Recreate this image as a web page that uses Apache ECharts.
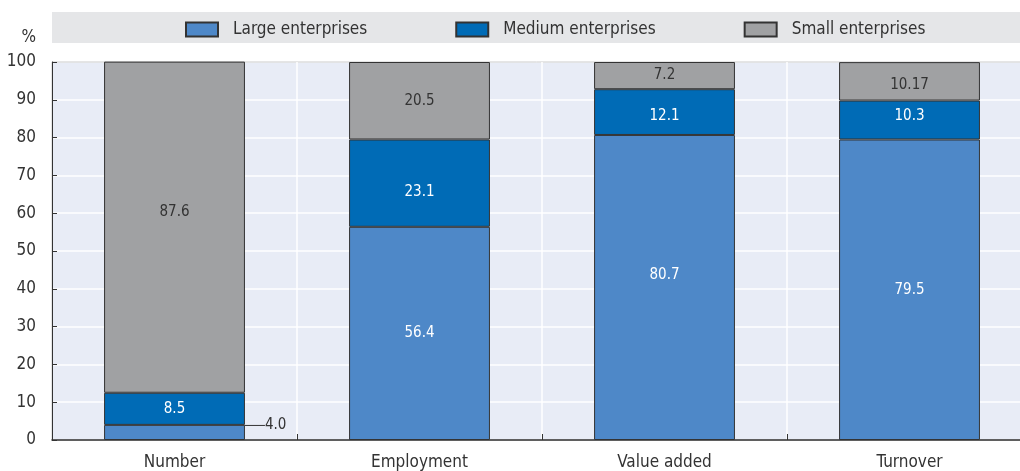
<!DOCTYPE html>
<html>
<head>
<meta charset="utf-8">
<script src="https://cdn.jsdelivr.net/npm/echarts@6/dist/echarts.min.js"></script>
<style>
  html, body { margin: 0; padding: 0; background: #ffffff; }
  #chart { width: 1020px; height: 471px; }
</style>
</head>
<body>
<div id="chart"></div>
<script>
    var categories = ['Number', 'Employment', 'Value added', 'Turnover'];
    var largeValues = [4.0, 56.4, 80.7, 79.5];
    var mediumValues = [8.5, 23.1, 12.1, 10.3];
    var smallValues = [87.6, 20.5, 7.2, 10.17];
    var largeLabels = ['4.0', '56.4', '80.7', '79.5'];
    var mediumLabels = ['8.5', '23.1', '12.1', '10.3'];
    var smallLabels = ['87.6', '20.5', '7.2', '10.17'];
    var yTicks = [0, 10, 20, 30, 40, 50, 60, 70, 80, 90, 100];

    var FONT = "'Liberation Sans Narrow', 'DejaVu Sans Condensed', Arial, sans-serif";

    //堆叠柱形图
    function DrawChart() {
        var barChart = echarts.init(document.getElementById('chart'));

        // 标签在柱段内的竖向微调
        function barSeries(name, values, labels, shifts, color, textColor) {
            return {
                name: name,
                type: 'bar',
                stack: 'total',
                barWidth: '57.5%',
                itemStyle: {
                    color: color,
                    borderColor: '#333333',
                    borderWidth: 1
                },
                label: {
                    show: true,
                    position: 'inside',
                    fontFamily: FONT,
                    fontSize: 15,
                    color: textColor,
                    formatter: function (p) { return labels[p.dataIndex]; }
                },
                labelLayout: function (p) {
                    if (p.seriesIndex === 0 && p.dataIndex === 0) {
                        return { dx: 16, dy: -7 };
                    }
                    return { dy: shifts[p.dataIndex] };
                },
                data: values
            };
        }

        var large = barSeries('Large enterprises', largeValues, largeLabels, [0, 0, -12, 0], '#4E88C8', '#ffffff');
        // 4.0 标签放在柱子右侧并带引线
        large.data = largeValues.map(function (v, i) {
            if (i === 0) {
                return {
                    value: v,
                    label: { position: 'right', color: '#333333', distance: 4 },
                    labelLine: { show: true, lineStyle: { color: '#333333', width: 1 } }
                };
            }
            return v;
        });

        barChart.setOption({
            animation: false,
            textStyle: { fontFamily: FONT },
            graphic: [{
                type: 'rect',
                shape: { x: 52, y: 12, width: 968, height: 31 },
                style: { fill: '#E5E6E8' },
                z: -1
            }],
            legend: {
                left: 180,
                top: 16,
                icon: 'rect',
                itemWidth: 32,
                itemHeight: 14,
                itemGap: 88,
                textStyle: {
                    fontFamily: FONT,
                    fontSize: 17,
                    color: '#333333',
                    padding: [0, 0, 0, 10]
                },
                data: ['Large enterprises', 'Medium enterprises', 'Small enterprises']
            },
            grid: {
                left: 52,
                width: 980,
                top: 62,
                bottom: 31,
                outerBoundsMode: 'none',
                show: true,
                backgroundColor: '#E8ECF6',
                borderColor: '#333333',
                borderWidth: 1
            },
            xAxis: {
                type: 'category',
                data: categories,
                axisLine: { lineStyle: { color: '#333333', width: 1.5 } },
                axisTick: { show: true, inside: true, length: 6, lineStyle: { color: '#333333' } },
                splitLine: { show: true, lineStyle: { color: '#ffffff', width: 1.5 } },
                axisLabel: {
                    fontFamily: FONT,
                    fontSize: 17,
                    color: '#333333',
                    margin: 14
                }
            },
            yAxis: {
                type: 'value',
                min: yTicks[0],
                max: yTicks[yTicks.length - 1],
                interval: 10,
                name: '%',
                nameLocation: 'end',
                nameGap: 16,
                nameTextStyle: {
                    fontFamily: FONT,
                    fontSize: 17,
                    color: '#333333',
                    align: 'right',
                    padding: [0, 16, 0, 0]
                },
                axisLine: { show: true, lineStyle: { color: '#333333' } },
                axisTick: { show: true, inside: true, length: 5, lineStyle: { color: '#333333' } },
                splitLine: { show: true, lineStyle: { color: '#ffffff', width: 1.5 } },
                axisLabel: {
                    fontFamily: FONT,
                    fontSize: 17,
                    color: '#333333',
                    margin: 16
                }
            },
            series: [
                large,
                barSeries('Medium enterprises', mediumValues, mediumLabels, [0, 9, 4, -4], '#006BB6', '#ffffff'),
                barSeries('Small enterprises', smallValues, smallLabels, [-15, 0, 0, 4], '#A0A1A3', '#333333')
            ]
        });
    }

    DrawChart();
</script>
</body>
</html>
